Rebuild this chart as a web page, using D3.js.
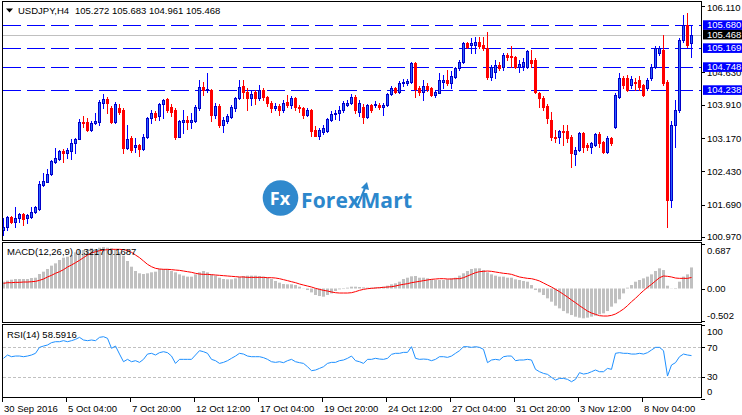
<!DOCTYPE html>
<html><head><meta charset="utf-8">
<script src="https://cdn.jsdelivr.net/npm/d3@7"></script>
<style>
html,body{margin:0;padding:0;background:#fff;}
svg{display:block;}
text{font-family:"Liberation Sans",Arial,sans-serif;font-size:9.5px;}
</style></head><body>
<svg id="c" width="742" height="415"></svg>
<script>
const symbolTitle = "USDJPY,H4";
const lastOHLC = "105.272 105.683 104.961 105.468";

const open = [
101.13,101.20,101.42,101.31,101.40,101.49,101.40,101.42,101.53,101.60,
102.13,102.20,102.38,102.64,102.71,102.88,102.84,102.88,103.06,103.15,
103.53,103.53,103.35,103.51,103.53,103.95,104.04,103.84,103.53,103.84,
103.79,102.95,103.17,102.97,103.02,102.93,103.20,103.62,103.73,103.66,
103.93,104.04,103.86,103.79,103.20,103.53,103.57,103.53,103.55,103.84,
104.31,104.24,104.24,103.68,103.88,103.46,103.55,103.64,103.84,104.06,
104.33,104.19,104.06,104.19,104.06,104.24,104.08,103.95,103.84,103.88,
103.79,103.97,103.91,104.06,103.86,103.84,103.68,103.79,103.35,103.22,
103.31,103.33,103.57,103.71,103.73,103.79,103.91,103.95,104.08,103.75,
103.86,103.64,103.91,103.91,103.91,103.86,103.91,104.15,104.28,104.19,
104.39,104.39,104.42,104.84,104.28,104.19,104.33,104.28,104.13,104.17,
104.42,104.46,104.39,104.53,104.73,104.86,105.28,105.24,105.24,105.30,
105.24,105.17,104.53,104.64,104.79,104.75,105.01,104.99,104.97,104.75,
104.77,104.75,104.90,104.90,104.17,104.06,103.88,103.57,103.20,103.20,
103.33,103.33,103.20,102.82,102.91,103.28,103.02,102.97,103.02,103.26,
103.09,102.86,103.17,103.42,104.08,104.50,104.50,104.35,104.42,104.46,
104.35,104.28,104.50,104.75,105.06,105.13,104.42,101.80,103.46,103.79,
105.35,105.68,105.272];
const high = [
101.40,101.44,101.44,101.64,101.51,101.51,101.49,101.64,101.67,102.22,
102.40,102.49,102.69,102.95,102.91,102.93,102.95,103.15,103.17,103.60,
103.66,103.62,103.55,103.73,104.02,104.15,104.08,103.88,103.97,103.93,
103.84,103.46,103.22,103.17,103.04,103.26,103.64,103.79,103.77,103.95,
104.04,104.06,103.93,103.84,103.57,103.79,103.66,103.73,103.91,104.46,
104.42,104.62,104.26,103.95,103.93,103.64,103.71,103.91,104.08,104.46,
104.46,104.28,104.24,104.24,104.35,104.28,104.11,103.99,103.95,103.93,
104.02,104.13,104.11,104.08,103.91,103.86,103.84,103.82,103.44,103.40,
103.46,103.62,103.77,103.79,103.88,103.99,104.02,104.15,104.13,104.02,
103.93,103.93,103.93,103.99,103.95,103.95,104.17,104.33,104.31,104.44,
104.48,104.48,104.86,104.86,104.33,104.46,104.39,104.31,104.24,104.62,
104.57,104.68,104.66,104.75,104.90,105.30,105.30,105.39,105.41,105.41,
105.41,105.52,104.79,104.90,104.86,105.06,105.06,105.21,104.99,104.90,
104.95,105.13,105.13,104.95,104.19,104.11,103.93,103.75,103.35,103.35,
103.46,103.46,103.24,102.97,103.31,103.31,103.06,103.09,103.28,103.31,
103.11,103.22,103.20,104.17,104.62,104.55,104.57,104.55,104.50,104.55,
104.37,104.50,104.82,105.21,105.21,105.46,104.46,103.55,104.02,105.39,
105.90,105.95,105.683];
const low = [
101.02,101.13,101.29,101.20,101.31,101.24,101.29,101.40,101.51,101.58,
102.11,102.20,102.35,102.62,102.69,102.64,102.73,102.71,102.84,103.15,
103.42,103.33,103.33,103.49,103.46,103.84,103.73,103.51,103.51,103.71,
102.84,102.93,102.86,102.86,102.77,102.91,103.17,103.51,103.57,103.57,
103.62,103.75,103.66,103.15,103.20,103.28,103.37,103.40,103.53,103.79,
104.13,104.19,103.55,103.62,103.42,103.31,103.51,103.62,103.77,104.04,
104.06,103.79,103.91,103.93,104.02,104.02,103.88,103.75,103.79,103.68,
103.75,103.86,103.84,103.79,103.75,103.62,103.66,103.22,103.22,103.15,
103.26,103.31,103.55,103.60,103.57,103.75,103.88,103.93,103.73,103.66,
103.51,103.62,103.75,103.86,103.82,103.68,103.88,104.13,104.17,104.17,
104.33,104.35,104.39,104.08,104.13,104.02,104.22,104.11,104.08,104.17,
104.28,104.35,104.28,104.50,104.68,104.84,105.17,105.06,105.06,105.17,
105.13,104.48,104.46,104.50,104.68,104.68,104.90,104.75,104.73,104.64,
104.68,104.73,104.75,104.17,103.86,103.79,103.51,103.13,103.09,103.06,
103.02,103.09,102.53,102.58,102.88,102.86,102.91,102.84,103.00,102.97,
102.84,102.84,103.02,103.40,104.06,104.28,104.22,104.28,104.24,104.24,
104.11,104.24,104.46,104.73,105.01,104.35,101.20,101.64,102.97,103.75,
105.30,105.19,104.961];
const close = [
101.20,101.42,101.31,101.40,101.49,101.38,101.47,101.53,101.64,102.15,
102.22,102.38,102.66,102.73,102.88,102.84,102.91,103.06,103.15,103.53,
103.51,103.35,103.51,103.55,103.97,104.04,103.95,103.53,103.93,103.75,
102.95,103.15,102.91,103.02,102.93,103.20,103.62,103.73,103.64,103.93,
104.02,103.79,103.75,103.20,103.55,103.57,103.53,103.57,103.86,104.31,
104.24,104.26,103.68,103.88,103.46,103.57,103.66,103.86,104.06,104.31,
104.19,104.06,104.15,104.06,104.24,104.08,103.95,103.84,103.88,103.79,
103.95,103.91,104.06,103.86,103.84,103.68,103.79,103.33,103.22,103.35,
103.40,103.60,103.71,103.73,103.79,103.95,103.95,104.08,103.79,103.95,
103.64,103.91,103.79,103.93,103.86,103.91,104.15,104.28,104.19,104.39,
104.42,104.44,104.84,104.26,104.19,104.33,104.26,104.13,104.19,104.46,
104.46,104.39,104.55,104.73,104.86,105.28,105.19,105.28,105.30,105.21,
105.17,104.53,104.75,104.79,104.73,105.01,104.97,104.97,104.75,104.82,
104.86,105.10,104.84,104.19,104.06,103.86,103.62,103.20,103.17,103.33,
103.31,103.17,102.84,102.91,103.28,102.97,102.97,103.06,103.26,103.06,
102.86,103.17,103.06,104.13,104.50,104.35,104.24,104.48,104.39,104.31,
104.13,104.46,104.75,105.17,105.17,104.39,101.80,103.46,103.79,105.35,
105.68,105.24,105.468];

const macdMain = [
0.104,0.120,0.135,0.145,0.145,0.145,0.145,0.160,0.165,0.221,
0.257,0.298,0.349,0.384,0.435,0.471,0.486,0.511,0.552,0.588,
0.588,0.598,0.613,0.603,0.623,0.634,0.623,0.613,0.603,0.552,
0.501,0.420,0.333,0.267,0.232,0.221,0.232,0.247,0.257,0.298,
0.298,0.298,0.267,0.247,0.216,0.196,0.181,0.181,0.216,0.247,
0.267,0.247,0.216,0.196,0.165,0.145,0.140,0.140,0.155,0.176,
0.191,0.196,0.196,0.196,0.191,0.181,0.165,0.145,0.115,0.089,
0.069,0.064,0.064,0.053,0.028,0.003,-0.023,-0.059,-0.099,-0.115,
-0.125,-0.099,-0.074,-0.038,-0.013,-0.008,0.013,0.028,0.028,0.023,
0.018,0.013,0.013,0.018,0.018,0.028,0.043,0.064,0.079,0.104,
0.145,0.165,0.186,0.191,0.165,0.165,0.155,0.140,0.130,0.130,
0.130,0.140,0.155,0.165,0.196,0.232,0.267,0.298,0.308,0.308,
0.282,0.247,0.216,0.196,0.181,0.181,0.165,0.165,0.140,0.130,
0.115,0.104,0.053,-0.023,-0.059,-0.099,-0.150,-0.201,-0.262,-0.303,
-0.344,-0.379,-0.405,-0.430,-0.445,-0.455,-0.445,-0.430,-0.415,-0.394,
-0.379,-0.344,-0.277,-0.226,-0.165,-0.074,0.013,0.053,0.104,0.130,
0.155,0.181,0.216,0.267,0.308,0.282,0.043,0.003,-0.008,0.104,
0.181,0.216,0.3217];
const macdSignal = [
0.079,0.089,0.089,0.094,0.094,0.099,0.099,0.104,0.109,0.125,
0.145,0.176,0.201,0.232,0.257,0.288,0.328,0.359,0.394,0.430,
0.471,0.511,0.542,0.562,0.578,0.588,0.593,0.598,0.598,0.598,
0.593,0.583,0.552,0.511,0.471,0.420,0.369,0.333,0.308,0.298,
0.293,0.293,0.288,0.282,0.277,0.267,0.257,0.247,0.232,0.221,
0.216,0.216,0.211,0.206,0.201,0.196,0.191,0.186,0.181,0.176,
0.176,0.170,0.170,0.170,0.170,0.170,0.165,0.165,0.160,0.150,
0.135,0.120,0.104,0.089,0.069,0.053,0.038,0.023,0.003,-0.013,
-0.028,-0.038,-0.053,-0.064,-0.069,-0.069,-0.069,-0.064,-0.048,-0.028,
-0.013,-0.003,0.003,0.008,0.013,0.018,0.023,0.028,0.038,0.053,
0.064,0.074,0.089,0.099,0.109,0.120,0.130,0.140,0.145,0.150,
0.150,0.145,0.145,0.150,0.150,0.165,0.191,0.216,0.242,0.257,
0.262,0.267,0.262,0.252,0.242,0.232,0.226,0.216,0.196,0.176,
0.165,0.155,0.150,0.135,0.115,0.084,0.053,0.023,-0.013,-0.048,
-0.089,-0.130,-0.176,-0.216,-0.262,-0.303,-0.344,-0.374,-0.394,-0.415,
-0.420,-0.420,-0.410,-0.389,-0.354,-0.313,-0.262,-0.201,-0.150,-0.089,
-0.033,0.018,0.064,0.115,0.165,0.191,0.186,0.176,0.160,0.155,
0.155,0.155,0.1687];
const rsiValues = [
54.9,59.4,57.1,58.0,58.0,57.1,58.0,59.4,61.7,69.8,
71.6,73.0,76.2,77.5,77.5,78.9,77.5,78.9,80.7,83.4,
79.8,78.9,79.8,78.9,83.4,84.3,82.1,68.5,71.6,60.7,
50.3,53.5,50.3,51.7,49.4,53.5,60.7,61.7,59.4,62.6,
63.9,62.6,58.0,48.0,53.5,53.5,53.5,53.5,59.4,65.3,
63.9,61.7,53.5,51.7,48.0,49.4,51.7,54.9,58.0,61.7,
60.7,58.0,57.1,57.1,57.1,55.8,53.5,50.3,49.4,50.3,
49.0,51.7,53.5,50.3,49.0,48.0,43.5,38.1,39.0,41.2,
43.5,48.0,49.4,49.4,51.7,52.6,54.9,58.0,51.7,50.3,
48.0,53.5,53.5,54.9,53.9,53.5,54.9,60.3,61.7,61.7,
63.0,63.0,70.7,54.9,53.5,53.9,53.5,51.7,53.5,57.1,
57.1,56.2,58.0,61.7,65.3,70.7,70.7,69.8,70.7,69.8,
67.1,49.0,52.6,53.5,52.6,57.1,58.0,58.0,51.7,52.6,
52.6,53.5,52.6,39.9,36.7,34.4,33.1,29.0,25.4,27.6,
27.6,26.3,23.1,26.3,35.4,33.5,34.4,36.7,39.0,36.7,
36.7,41.2,39.9,61.7,62.6,61.7,61.7,60.7,60.7,61.7,
60.7,62.6,66.2,69.8,69.8,65.3,30.8,45.8,49.0,57.1,
60.7,59.4,58.5916];

const timeTickIndex = [0,16,32,48,64,80,96,112,128,144,160];
const timeTickLabels = ["30 Sep 2016","5 Oct 04:00","7 Oct 20:00","12 Oct 12:00","17 Oct 04:00","19 Oct 20:00","24 Oct 12:00","27 Oct 04:00","31 Oct 20:00","3 Nov 12:00","8 Nov 04:00"];
const priceTicks = [106.110,104.630,103.910,103.170,102.430,101.690,100.970];
const hLines = [105.680,105.169,104.748,104.238];
const bidPrice = 105.468;
const macdTicks = [0.687,0.00,-0.502];
const macdTickLabels = ["0.687","0.00","-0.502"];
const rsiTicks = [100,70,30,0];
const rsiLevels = [70,30];
const macdLabel = "MACD(12,26,9) 0.3217 0.1687";
const rsiLabel = "RSI(14) 58.5916";

const svg = d3.select("#c");
const n = open.length;
const x = d3.scaleLinear().domain([0, n-1]).range([3, 3 + 4*(n-1)]);
const yMain = d3.scaleLinear().domain([100.97,106.11]).range([237.3,5.6]);
const yMacd = d3.scaleLinear().domain([-0.502,0.687]).range([321.4,243.5]);
const yRsi = d3.scaleLinear().domain([0,100]).range([398.7,325.15]);
const R = v => Math.round(v);

const defs = svg.append("defs");
[["cMain",3,2,698,238],["cMacd",3,243,698,79],["cRsi",3,325,698,72]].forEach(([id,a,b,w,h])=>{
  defs.append("clipPath").attr("id",id).append("rect").attr("x",a).attr("y",b).attr("width",w).attr("height",h);
});

// ---- logo watermark
const logo = svg.append("g");
logo.append("circle").attr("cx",280.5).attr("cy",198).attr("r",17.8).attr("fill","#3089cd");
logo.append("text").attr("x",280).attr("y",205).attr("text-anchor","middle")
  .style("font-family","'Open Sans',sans-serif").style("font-size","18px").style("font-weight","700")
  .attr("fill","#fff").text("Fx");
logo.append("text").attr("x",301).attr("y",208).attr("textLength",111)
  .style("font-family","'Open Sans',sans-serif").style("font-size","21px").style("font-weight","700")
  .attr("fill","#2c87cc").text("ForexMart");
logo.append("path").attr("d","M358,205 L365,188").attr("stroke","#2c87cc").attr("stroke-width",2);
logo.append("path").attr("d","M361,188 L367,182 L369,190 Z").attr("fill","#2c87cc");

// ---- main panel
const gm = svg.append("g").attr("clip-path","url(#cMain)");
gm.append("line").attr("x1",3).attr("x2",701).attr("y1",R(yMain(bidPrice))+0.5).attr("y2",R(yMain(bidPrice))+0.5)
  .attr("stroke","#c0c0c0");
gm.selectAll("line.hl").data(hLines).join("line").attr("class","hl")
  .attr("x1",3).attr("x2",701)
  .attr("y1",d=>R(yMain(d))+0.5).attr("y2",d=>R(yMain(d))+0.5)
  .attr("stroke","#0000ff").attr("stroke-dasharray","18,6");

const idx = d3.range(n);
const bull = i => close[i] >= open[i];
gm.selectAll("line.wick").data(idx).join("line").attr("class","wick")
  .attr("x1",i=>R(x(i))+0.5).attr("x2",i=>R(x(i))+0.5)
  .attr("y1",i=>R(yMain(high[i]))).attr("y2",i=>R(yMain(low[i]))+1)
  .attr("stroke",i=>bull(i)?"#0000ff":"#ff0000");
gm.selectAll("rect.bear").data(idx.filter(i=>!bull(i))).join("rect").attr("class","bear")
  .attr("x",i=>R(x(i))-1).attr("width",3)
  .attr("y",i=>R(yMain(open[i])))
  .attr("height",i=>Math.max(1,R(yMain(close[i]))-R(yMain(open[i]))+1))
  .attr("fill","#ff0000");
gm.selectAll("rect.bull").data(idx.filter(i=>bull(i))).join("rect").attr("class","bull")
  .attr("x",i=>R(x(i))-0.5).attr("width",2)
  .attr("y",i=>R(yMain(close[i]))+0.5)
  .attr("height",i=>Math.max(0,R(yMain(open[i]))-R(yMain(close[i]))))
  .attr("fill","#2a62ff").attr("stroke","#0000c8").attr("stroke-width",1);

// ---- MACD
const gd = svg.append("g").attr("clip-path","url(#cMacd)");
gd.selectAll("rect").data(idx).join("rect")
  .attr("x",i=>R(x(i))-1).attr("width",3)
  .attr("y",i=>Math.min(yMacd(0),yMacd(macdMain[i])))
  .attr("height",i=>Math.abs(yMacd(macdMain[i])-yMacd(0)))
  .attr("fill","#c0c0c0");
gd.append("path").datum(idx)
  .attr("d",d3.line().x(i=>R(x(i))+0.5).y(i=>yMacd(macdSignal[i])))
  .attr("fill","none").attr("stroke","#ff0000").attr("stroke-width",1);

// ---- RSI
const gr = svg.append("g").attr("clip-path","url(#cRsi)");
gr.selectAll("line.lv").data(rsiLevels).join("line").attr("class","lv")
  .attr("x1",3).attr("x2",701).attr("y1",d=>R(yRsi(d))+0.5).attr("y2",d=>R(yRsi(d))+0.5)
  .attr("stroke","#c0c0c0").attr("stroke-dasharray","3,2");
gr.append("path").datum(idx)
  .attr("d",d3.line().x(i=>R(x(i))+0.5).y(i=>yRsi(rsiValues[i])))
  .attr("fill","none").attr("stroke","#1e90ff").attr("stroke-width",1);

// ---- frames
[[1.5,240.5],[242.5,322.5],[324.5,397.5]].forEach(([t,b])=>{
  svg.append("rect").attr("x",2.5).attr("y",t).attr("width",699).attr("height",b-t)
    .attr("fill","none").attr("stroke","#000");
});

// ---- price axis
const ax = svg.append("g");
priceTicks.forEach(v=>{
  const yy = yMain(v);
  ax.append("line").attr("x1",701).attr("x2",705).attr("y1",R(yy)+0.5).attr("y2",R(yy)+0.5).attr("stroke","#000");
  ax.append("text").attr("x",707).attr("y",Math.min(239.5,Math.max(10.5,yy+3.5))).attr("fill","#000").text(v.toFixed(3));
});
function tag(v,bg){
  const yy = yMain(v);
  ax.append("rect").attr("x",703).attr("y",yy-4.7).attr("width",39).attr("height",9.6).attr("fill",bg);
  ax.append("text").attr("x",707).attr("y",yy+3.4).attr("fill","#fff").text(v.toFixed(3));
}
hLines.forEach(v=>tag(v,"#0000ff"));
tag(bidPrice,"#000");

// MACD axis
macdTicks.forEach((v,k)=>{
  const yy = yMacd(v);
  const ty = k===0 ? yy+10 : (k===2 ? yy-2.5 : yy+3.8);
  ax.append("line").attr("x1",701).attr("x2",705).attr("y1",R(yy)+0.5).attr("y2",R(yy)+0.5).attr("stroke","#000");
  ax.append("text").attr("x",707).attr("y",ty).attr("fill","#000").text(macdTickLabels[k]);
});
// RSI axis
rsiTicks.forEach(v=>{
  const yy = yRsi(v);
  const ty = v===100 ? yy+10 : (v===0 ? yy-4 : yy+3.8);
  ax.append("line").attr("x1",701).attr("x2",705).attr("y1",R(yy)+0.5).attr("y2",R(yy)+0.5).attr("stroke","#000");
  ax.append("text").attr("x",707).attr("y",ty).attr("fill","#000").text(String(v));
});

// time axis
timeTickIndex.forEach((ti,k)=>{
  const xx = R(x(ti))-0.5;
  ax.append("line").attr("x1",xx).attr("x2",xx).attr("y1",397).attr("y2",402).attr("stroke","#000");
  ax.append("text").attr("x",xx+1.5).attr("y",411.5).attr("fill","#000").text(timeTickLabels[k]);
});

// titles
svg.append("path").attr("d","M6,8.5 L13,8.5 L9.5,12.5 Z").attr("fill","#000");
svg.append("text").attr("x",18).attr("y",13.5).attr("fill","#000").text(symbolTitle);
svg.append("text").attr("x",75).attr("y",13.5).attr("fill","#000").text(lastOHLC);
svg.append("text").attr("x",7).attr("y",255).attr("fill","#000").text(macdLabel);
svg.append("text").attr("x",7).attr("y",337.5).attr("fill","#000").text(rsiLabel);
</script>
</body></html>
